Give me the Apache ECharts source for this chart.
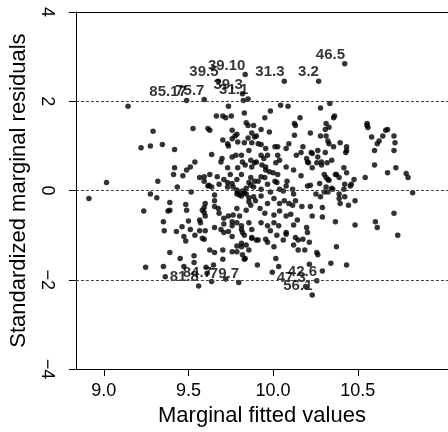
<!DOCTYPE html>
<html><head><meta charset="utf-8">
<script src="https://cdn.jsdelivr.net/npm/echarts@6/dist/echarts.min.js"></script>
<style>html,body{margin:0;padding:0;background:#fff}#c{width:448px;height:432px}</style>
</head><body><div id="c"></div>
<script>
const fitted = [
9.143,9.291,9.220,9.275,9.346,9.016,9.319,8.912,9.275,9.313,9.236,9.379,9.352,9.357,9.247,9.352,9.363,
9.527,9.615,9.626,9.665,9.703,9.720,9.753,9.736,9.758,9.786,9.824,9.830,9.841,9.852,9.885,9.874,9.929,9.978,9.951,9.984,
10.044,10.088,10.159,10.126,10.132,10.220,10.280,10.335,10.363,10.357,10.313,10.330,10.308,10.555,10.555,10.676,10.665,10.714,
10.126,10.560,10.582,9.418,9.703,9.731,9.758,9.775,9.791,9.852,9.874,9.901,9.912,9.956,10.011,10.027,10.077,10.093,10.176,
10.225,10.264,10.324,10.330,10.396,10.434,10.434,10.626,10.615,10.599,10.720,10.714,10.648,9.890,9.929,10.165,10.137,10.231,
10.264,10.209,10.258,10.286,10.319,10.357,10.429,9.929,9.945,10.027,10.038,10.016,9.890,9.934,9.956,9.929,10.000,10.027,10.011,
10.121,10.165,10.082,10.302,10.374,10.390,10.423,9.890,10.280,10.313,9.538,9.511,9.489,9.418,9.412,9.467,9.637,9.698,9.758,
9.731,9.791,9.813,9.819,9.857,9.868,9.874,9.901,9.956,9.978,9.967,10.077,10.198,10.203,10.231,10.286,10.308,10.346,10.313,
10.324,10.368,10.418,10.434,10.478,10.544,10.599,10.676,10.725,10.786,10.797,9.566,9.593,9.626,9.670,9.709,9.434,9.516,9.390,
9.484,9.489,9.390,9.615,9.654,9.681,9.731,9.764,9.791,9.813,9.841,9.857,9.885,9.912,9.929,9.951,9.967,9.984,10.022,10.038,
10.060,10.077,10.115,10.121,10.203,10.253,10.313,10.352,10.390,10.390,10.396,10.418,10.462,10.484,10.445,10.824,10.324,9.786,
9.819,9.857,9.896,9.929,9.967,10.005,10.038,10.066,10.093,10.115,10.132,10.714,10.604,10.615,10.484,10.736,10.434,10.456,
10.280,10.302,10.346,10.423,10.220,10.275,10.330,10.220,10.231,10.368,10.374,10.258,10.264,10.214,10.291,10.341,10.016,10.033,
9.995,9.907,9.599,9.582,9.566,9.571,9.654,9.676,9.681,9.709,9.736,9.764,9.786,9.802,9.841,9.868,9.923,9.951,10.005,10.038,
10.077,10.104,10.143,10.170,10.291,10.291,9.462,9.500,9.511,9.538,9.429,9.566,9.599,9.654,9.692,9.709,9.758,9.786,9.813,
9.819,9.857,9.874,9.929,9.967,9.984,10.005,10.033,10.077,10.121,10.198,10.203,9.593,9.654,9.593,9.599,9.473,9.484,9.582,
9.709,9.758,9.736,9.758,9.813,9.830,9.874,9.901,9.786,9.813,9.841,9.626,9.654,9.703,9.758,9.703,9.819,9.830,9.451,9.533,
9.533,9.390,9.604,9.648,9.473,9.610,9.720,9.731,9.758,9.786,9.802,9.830,9.841,9.868,9.885,9.857,9.621,9.637,9.593,9.786,
9.813,9.835,9.857,9.874,9.912,9.956,9.967,10.005,10.022,10.060,10.077,10.132,10.148,10.176,10.121,10.148,10.187,10.214,
9.593,9.692,9.736,9.830,9.780,9.835,9.813,9.868,9.786,9.747
];
const resid = [
1.89,1.33,0.96,1.00,1.03,0.18,0.21,-0.18,-0.08,-0.16,-0.46,-0.46,-0.70,-0.90,-1.72,-1.70,-1.93,
1.39,1.39,1.35,1.67,1.67,1.63,1.67,1.89,1.35,1.26,2.02,1.74,1.52,1.46,1.46,1.29,1.37,1.31,1.63,1.78,
1.91,1.89,1.63,1.50,1.46,1.29,1.85,1.95,1.67,1.63,1.50,1.42,1.37,1.50,1.46,1.37,1.35,1.22,
1.24,1.41,1.20,0.92,1.13,1.05,1.16,1.22,1.09,1.18,1.07,1.22,1.05,0.94,0.98,0.98,0.94,1.05,0.98,
0.85,0.90,1.11,1.05,1.07,0.98,0.90,1.11,1.05,0.90,1.07,0.90,1.22,1.20,1.03,0.85,0.79,0.83,
0.75,0.62,0.62,0.64,0.62,0.98,0.85,0.79,0.72,0.79,0.68,0.62,0.62,0.57,0.46,0.31,0.40,0.36,0.21,
0.46,0.33,0.21,0.36,0.36,0.29,0.14,0.21,1.22,1.22,0.64,0.53,0.46,0.51,0.36,0.33,0.81,0.72,0.75,
0.51,0.51,0.79,0.64,0.90,0.68,0.53,0.64,0.53,0.42,0.79,0.53,0.72,0.64,0.51,0.57,0.85,0.68,0.29,
0.25,0.36,0.51,0.40,0.25,0.29,0.57,0.40,0.51,0.38,0.29,0.29,0.31,0.36,0.31,0.25,0.08,-0.03,-0.27,
-0.31,-0.44,-0.44,0.10,-0.10,0.14,0.18,0.08,-0.03,-0.12,-0.08,0.18,0.08,0.21,0.03,0.29,0.14,-0.03,0.18,0.03,
-0.01,0.10,0.03,-0.08,0.10,-0.08,0.08,0.03,-0.08,-0.18,-0.29,0.03,0.14,-0.23,-0.33,-0.05,-0.03,-0.08,
-0.01,-0.16,-0.23,-0.12,-0.29,-0.18,-0.29,-0.23,-0.29,-0.33,-0.23,-0.51,-0.70,-0.83,-0.77,-1.00,-1.67,0.10,
-0.14,-0.03,0.05,-0.14,0.12,0.16,0.23,-0.36,-0.57,-0.70,-1.26,-1.39,-1.44,-1.65,-1.80,-1.63,-1.52,-1.70,
-1.83,-1.67,-0.29,-0.44,-0.66,-0.72,-0.23,-0.40,-0.51,-0.62,-0.57,-0.55,-0.40,-0.57,-0.44,-0.33,-0.40,-0.51,-0.55,-0.46,
-0.57,-0.53,-0.66,-0.36,-0.38,-0.59,-0.81,-0.68,-0.87,-1.00,-0.92,-0.90,-0.90,-0.83,-0.87,-0.94,-0.79,-0.72,-0.87,
-0.94,-0.72,-0.87,-0.72,-0.79,-0.90,-0.72,-0.79,-0.94,-0.77,-0.83,-0.94,-0.38,-0.36,-0.49,-0.57,-1.03,-1.13,-1.07,
-0.75,-0.70,-0.92,-1.03,-0.79,-1.00,-1.07,-1.11,-1.24,-1.18,-1.22,-1.33,-1.39,-1.33,-1.37,-1.54,-1.44,-1.54,-1.52,-1.46,
-1.61,-1.39,-1.72,-1.67,-1.70,-1.85,-1.98,0.08,0.16,0.01,-0.10,-0.05,0.05,0.12,-0.14,-0.25,0.12,0.08,-1.09,-1.37,
-1.26,-1.52,-1.33,-1.05,-1.11,-1.09,-1.16,-1.26,-1.00,-1.11,-0.98,-1.05,-1.11,-1.09,-1.22,-1.33,-1.33,-1.16,
0.21,0.64,1.00,1.07,0.79,0.57,0.36,0.29,0.25,0.36
];
const idLabels = ['85.17','75.7','39.5','39.10','39.3','31.1','31.3','3.2','46.5','81.8','84.7','79.7','42.6','47.3','56.1'];
const idFitted = [9.489,9.593,9.676,9.835,9.819,9.852,10.066,10.269,10.423,9.560,9.637,9.797,10.258,10.192,10.231];
const idResid  = [2.02,2.04,2.45,2.60,2.17,2.05,2.45,2.45,2.84,-2.14,-2.04,-2.06,-2.02,-2.15,-2.34];
const xTicks = [9.0, 9.5, 10.0, 10.5];
const refLines = [-2, 0, 2];
const xTitle = 'Marginal fitted values';
const yTitle = 'Standardized marginal residuals';

const FONT = 'Liberation Sans, Arial, Helvetica, sans-serif';
const xMin = 9 - 30 / 182, xMax = 9 - 30 / 182 + 400 / 182;
const pts = fitted.map((x, i) => [x, resid[i]]);
const idPts = idLabels.map((n, i) => ({ name: n, value: [idFitted[i], idResid[i]] }));

const chart = echarts.init(document.getElementById('c'), null, { renderer: 'canvas' });
chart.setOption({
  animation: false,
  backgroundColor: '#fff',
  grid: { left: 74, top: 12, right: -26, bottom: 50, show: false },
  xAxis: [{
    type: 'value', min: xMin, max: xMax, position: 'bottom',
    axisLine: { show: true, onZero: false, lineStyle: { color: '#000', width: 1 } },
    axisTick: { show: true, length: 7, customValues: xTicks, lineStyle: { color: '#000' } },
    axisLabel: { customValues: xTicks, formatter: v => Number(v).toFixed(1), color: '#000', fontSize: 18, fontFamily: FONT, margin: 13 },
    splitLine: { show: false },
    name: xTitle, nameLocation: 'middle', nameGap: 34,
    nameTextStyle: { fontSize: 22, color: '#000', fontFamily: FONT }
  }, {
    type: 'value', min: xMin, max: xMax, position: 'top',
    axisLine: { show: true, onZero: false, lineStyle: { color: '#000', width: 1 } },
    axisTick: { show: false }, axisLabel: { show: false }, splitLine: { show: false }
  }],
  yAxis: {
    type: 'value', min: -4, max: 4, interval: 2,
    axisLine: { show: true, onZero: false, lineStyle: { color: '#000', width: 1 } },
    axisTick: { show: true, length: 7, lineStyle: { color: '#000' } },
    axisLabel: { rotate: -90, formatter: v => (v < 0 ? '\u2212' + Math.abs(v) : String(v)), color: '#000', fontSize: 18, fontFamily: FONT, margin: 20 },
    splitLine: { show: false },
    name: yTitle, nameLocation: 'middle', nameGap: 42, nameRotate: 90,
    nameTextStyle: { fontSize: 22, color: '#000', fontFamily: FONT }
  },
  series: [
    {
      type: 'scatter', data: pts, symbol: 'circle', symbolSize: 5.5, silent: true,
      itemStyle: { color: '#000' },
      markLine: {
        silent: true, symbol: ['none', 'none'], label: { show: false },
        lineStyle: { color: '#444', type: [3, 2], width: 1 },
        data: refLines.map(v => ({ yAxis: v }))
      }
    },
    {
      type: 'scatter', data: idPts, symbol: 'circle', symbolSize: 5.5, silent: true,
      itemStyle: { color: '#000' },
      label: { show: true, formatter: '{b}', position: 'left', distance: 0, offset: [3, -9],
        color: '#000', fontSize: 15, fontWeight: 'bold', fontFamily: FONT }
    }
  ]
});
</script></body></html>
